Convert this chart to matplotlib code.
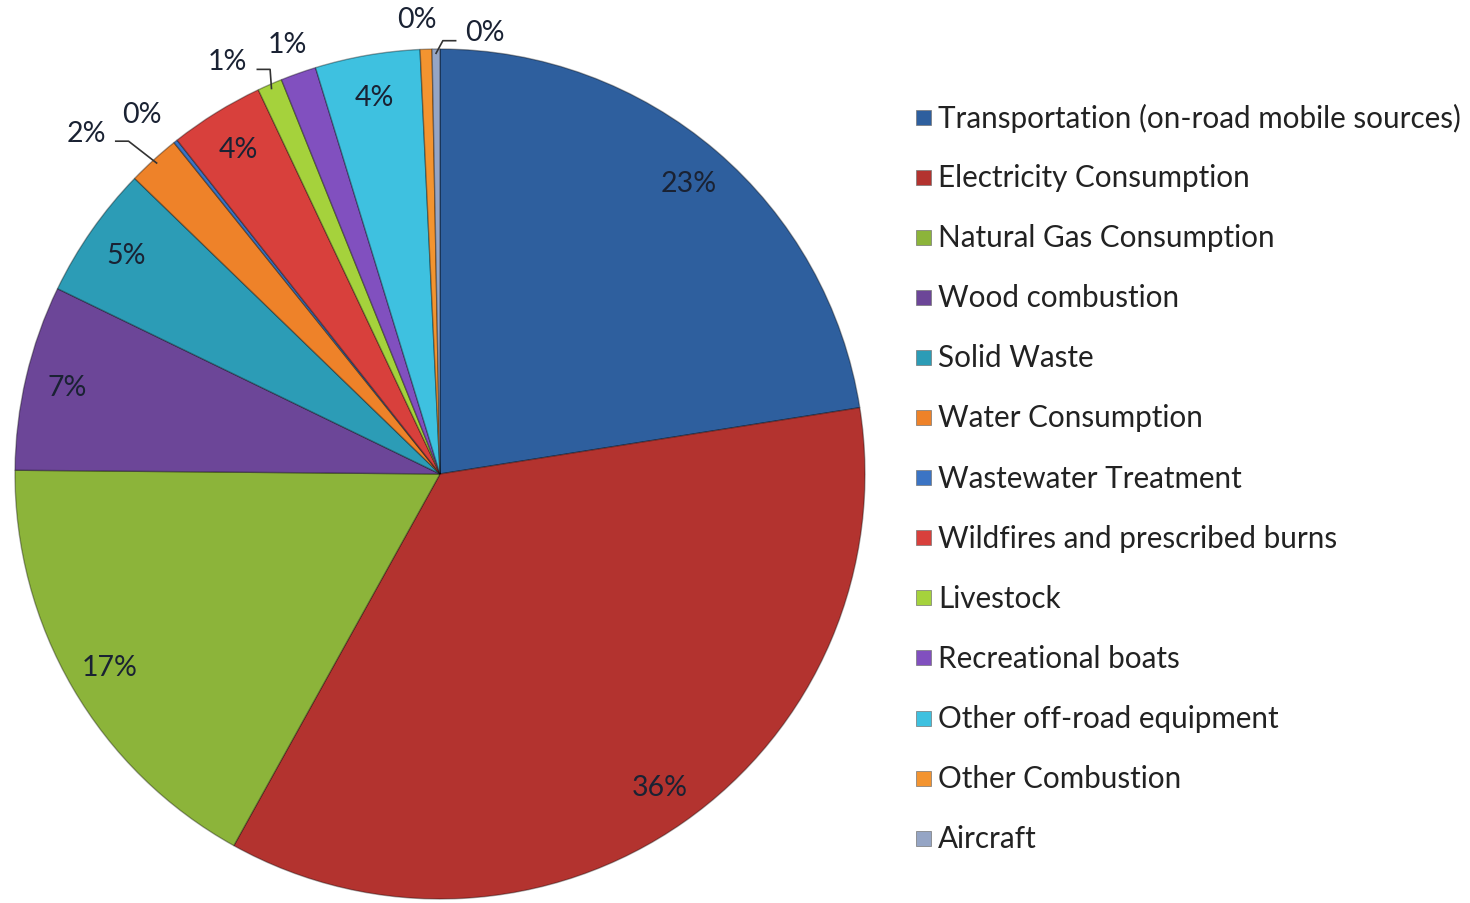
import matplotlib
matplotlib.use('Agg')
import matplotlib.pyplot as plt
import numpy as np
from matplotlib.patches import Rectangle

plt.rcParams['font.family'] = ['Lato', 'DejaVu Sans']

categories = ['Transportation (on-road mobile sources)', 'Electricity Consumption',
              'Natural Gas Consumption', 'Wood combustion', 'Solid Waste',
              'Water Consumption', 'Wastewater Treatment', 'Wildfires and prescribed burns',
              'Livestock', 'Recreational boats', 'Other off-road equipment',
              'Other Combustion', 'Aircraft']
shares = [22.6, 35.7, 17.15, 7.07, 5.08, 2.0, 0.15, 3.6, 0.95, 1.36, 4.0, 0.45, 0.3]
colors = ['#2E5F9E', '#B3332F', '#8CB43A', '#6C4698', '#2C9CB6', '#EE8229', '#3B74C4',
          '#D8403C', '#A5D23C', '#8150BF', '#3EC1E0', '#F39430', '#95A5C5']

# small slices: label radius, angle offset (deg), leader side (0 = no line)
outside = {5: (1.157, 3.7, 1), 6: (1.10, 1.2, 0), 8: (1.093, 3.6, 1),
           9: (1.074, 0.0, 0), 11: (1.073, 1.0, 0), 12: (1.045, -6.4, -1)}

fig = plt.figure(figsize=(14.7, 9.04), dpi=100)
half = 470.0
R = 425.0
ax = fig.add_axes([(440 - half) / 1470, (904 - 475 - half) / 904, 2 * half / 1470, 2 * half / 904])
wedges, texts, autotexts = ax.pie(shares, colors=colors, startangle=90, counterclock=False,
                                  radius=1.0, autopct='%.0f%%', pctdistance=0.9,
                                  wedgeprops=dict(edgecolor=(0, 0, 0, 0.35), linewidth=1.0),
                                  textprops=dict(fontsize=20.5, color='#1a2233'))
ax.set_xlim(-half / R, half / R)
ax.set_ylim(-half / R, half / R)
ax.set_aspect('equal')
ax.axis('off')

for i, (r, off, side) in outside.items():
    w = wedges[i]
    mid = np.deg2rad((w.theta1 + w.theta2) / 2)
    ang = mid + np.deg2rad(off)
    tx, ty = r * np.cos(ang), r * np.sin(ang)
    autotexts[i].set_position((tx, ty))
    if side != 0:
        ex, ey = 0.99 * np.cos(mid), 0.99 * np.sin(mid)
        xs = [tx + side * 0.07, tx + side * 0.10, ex]
        ys = [ty - 0.02, ty - 0.02, ey]
        ax.plot(xs, ys, color='#333333', lw=1.2, clip_on=False)

# legend
for i, lab in enumerate(categories):
    yc = 904 - (118 + i * 60.1)
    fig.patches.append(Rectangle((916 / 1470, (yc - 7.5) / 904), 15 / 1470, 15 / 904,
                                 transform=fig.transFigure, facecolor=colors[i],
                                 edgecolor='#777777', lw=0.5))
    fig.text(938 / 1470, yc / 904, lab, fontsize=21.3, color='#222222', va='center', ha='left')

fig.savefig('out.png', dpi=100, facecolor='white')
